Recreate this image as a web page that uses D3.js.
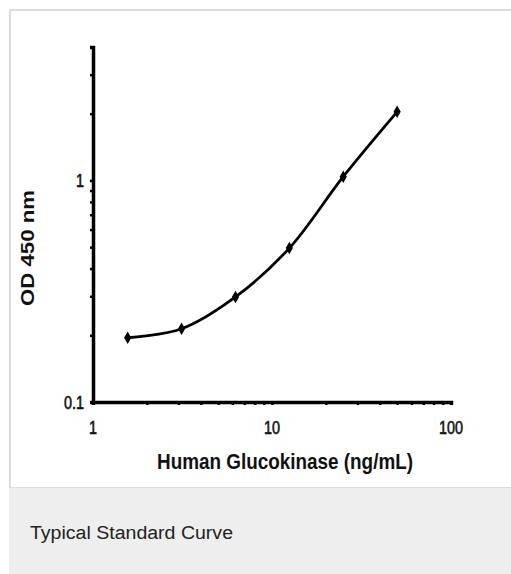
<!DOCTYPE html>
<html>
<head>
<meta charset="utf-8">
<script src="https://cdn.jsdelivr.net/npm/d3@7"></script>
<style>
  html, body { margin: 0; padding: 0; background: #fff; }
  svg { display: block; }
</style>
</head>
<body>
<svg id="chart" width="511" height="574"></svg>
<script>
// ---- data ----
const concentrations = [1.5625, 3.125, 6.25, 12.5, 25, 50];
const odValues = [0.195, 0.214, 0.298, 0.495, 1.04, 2.04];
const xTickLabels = [1, 10, 100];
const yTickLabels = [0.1, 1];
const xTitle = "Human Glucokinase (ng/mL)";
const yTitle = "OD 450 nm";
const caption = "Typical Standard Curve";

const svg = d3.select("#chart");

// card background & caption panel
svg.append("rect").attr("x", 10).attr("y", 10).attr("width", 510).attr("height", 478)
  .attr("fill", "#fff").attr("stroke", "#dcdcdc").attr("stroke-width", 2);
svg.append("rect").attr("x", 9).attr("y", 488).attr("width", 502).attr("height", 86)
  .attr("fill", "#edeeed");

// condense text horizontally by a factor (keeps height)
function condense(sel, factor) {
  sel.each(function () {
    const w = this.getComputedTextLength();
    d3.select(this).attr("textLength", (w * factor).toFixed(2)).attr("lengthAdjust", "spacingAndGlyphs");
  });
}
function fitWidth(sel, target) {
  sel.attr("textLength", target).attr("lengthAdjust", "spacingAndGlyphs");
}

const x = d3.scaleLog().domain([1, 100]).range([93, 451]);
const y = d3.scaleLog().domain([0.1, 4]).range([402, 47]);

const g = svg.append("g");

// minor ticks
const xMinor = d3.range(1, 10).flatMap(d => [d, d * 10]).concat([100]);
const yMinor = d3.range(1, 10).map(d => d / 10).concat([1, 2, 3, 4]);

const xAxis = d3.axisBottom(x).tickValues(xMinor).tickSize(3).tickFormat("");
const yAxis = d3.axisLeft(y).tickValues(yMinor).tickSize(3).tickFormat("");

const gx = g.append("g").attr("transform", "translate(0,402)").call(xAxis);
const gy = g.append("g").attr("transform", "translate(93,0)").call(yAxis);
[gx, gy].forEach(a => {
  a.select(".domain").attr("stroke", "#000").attr("stroke-width", 3.5);
  a.selectAll(".tick line").attr("stroke", "#000").attr("stroke-width", 2.5);
});

// tick labels
const font = "'Liberation Sans', Arial, Helvetica, sans-serif";
const xl = g.selectAll(".xl").data(xTickLabels).join("text")
  .attr("x", d => x(d)).attr("y", 434)
  .attr("text-anchor", "middle")
  .attr("font-family", font).attr("font-size", 18)
  .attr("fill", "#111").attr("stroke", "#111").attr("stroke-width", 0.6)
  .text(d => d);
condense(xl, 0.8);
const yl = g.selectAll(".yl").data(yTickLabels).join("text")
  .attr("x", 84).attr("y", d => y(d) + 7)
  .attr("text-anchor", "end")
  .attr("font-family", font).attr("font-size", 18)
  .attr("fill", "#111").attr("stroke", "#111").attr("stroke-width", 0.6)
  .text(d => d);
condense(yl, 0.8);

// axis titles
const xt = g.append("text")
  .attr("x", 285).attr("y", 469)
  .attr("text-anchor", "middle")
  .attr("font-family", font).attr("font-weight", "bold").attr("font-size", 22)
  .attr("fill", "#111")
  .text(xTitle);
fitWidth(xt, 256);

const yt = g.append("text")
  .attr("transform", "translate(34,248) rotate(-90)")
  .attr("text-anchor", "middle")
  .attr("font-family", font).attr("font-weight", "bold").attr("font-size", 18.5)
  .attr("fill", "#111")
  .text(yTitle);
fitWidth(yt, 116);

// curve
const pts = concentrations.map((c, i) => [x(c), y(odValues[i])]);
g.append("path")
  .attr("d", d3.line().curve(d3.curveCatmullRom.alpha(0.5))(pts))
  .attr("fill", "none").attr("stroke", "#000").attr("stroke-width", 2.8);

// markers
g.selectAll(".pt").data(concentrations).join("path")
  .attr("transform", (c, i) => `translate(${x(c)},${y(odValues[i])})`)
  .attr("d", d3.symbol(d3.symbolDiamond, 45))
  .attr("fill", "#000");

// caption
const cap = svg.append("text")
  .attr("x", 30).attr("y", 539)
  .attr("font-family", font).attr("font-size", 18)
  .attr("fill", "#222")
  .text(caption);
fitWidth(cap, 203);
</script>
</body>
</html>
